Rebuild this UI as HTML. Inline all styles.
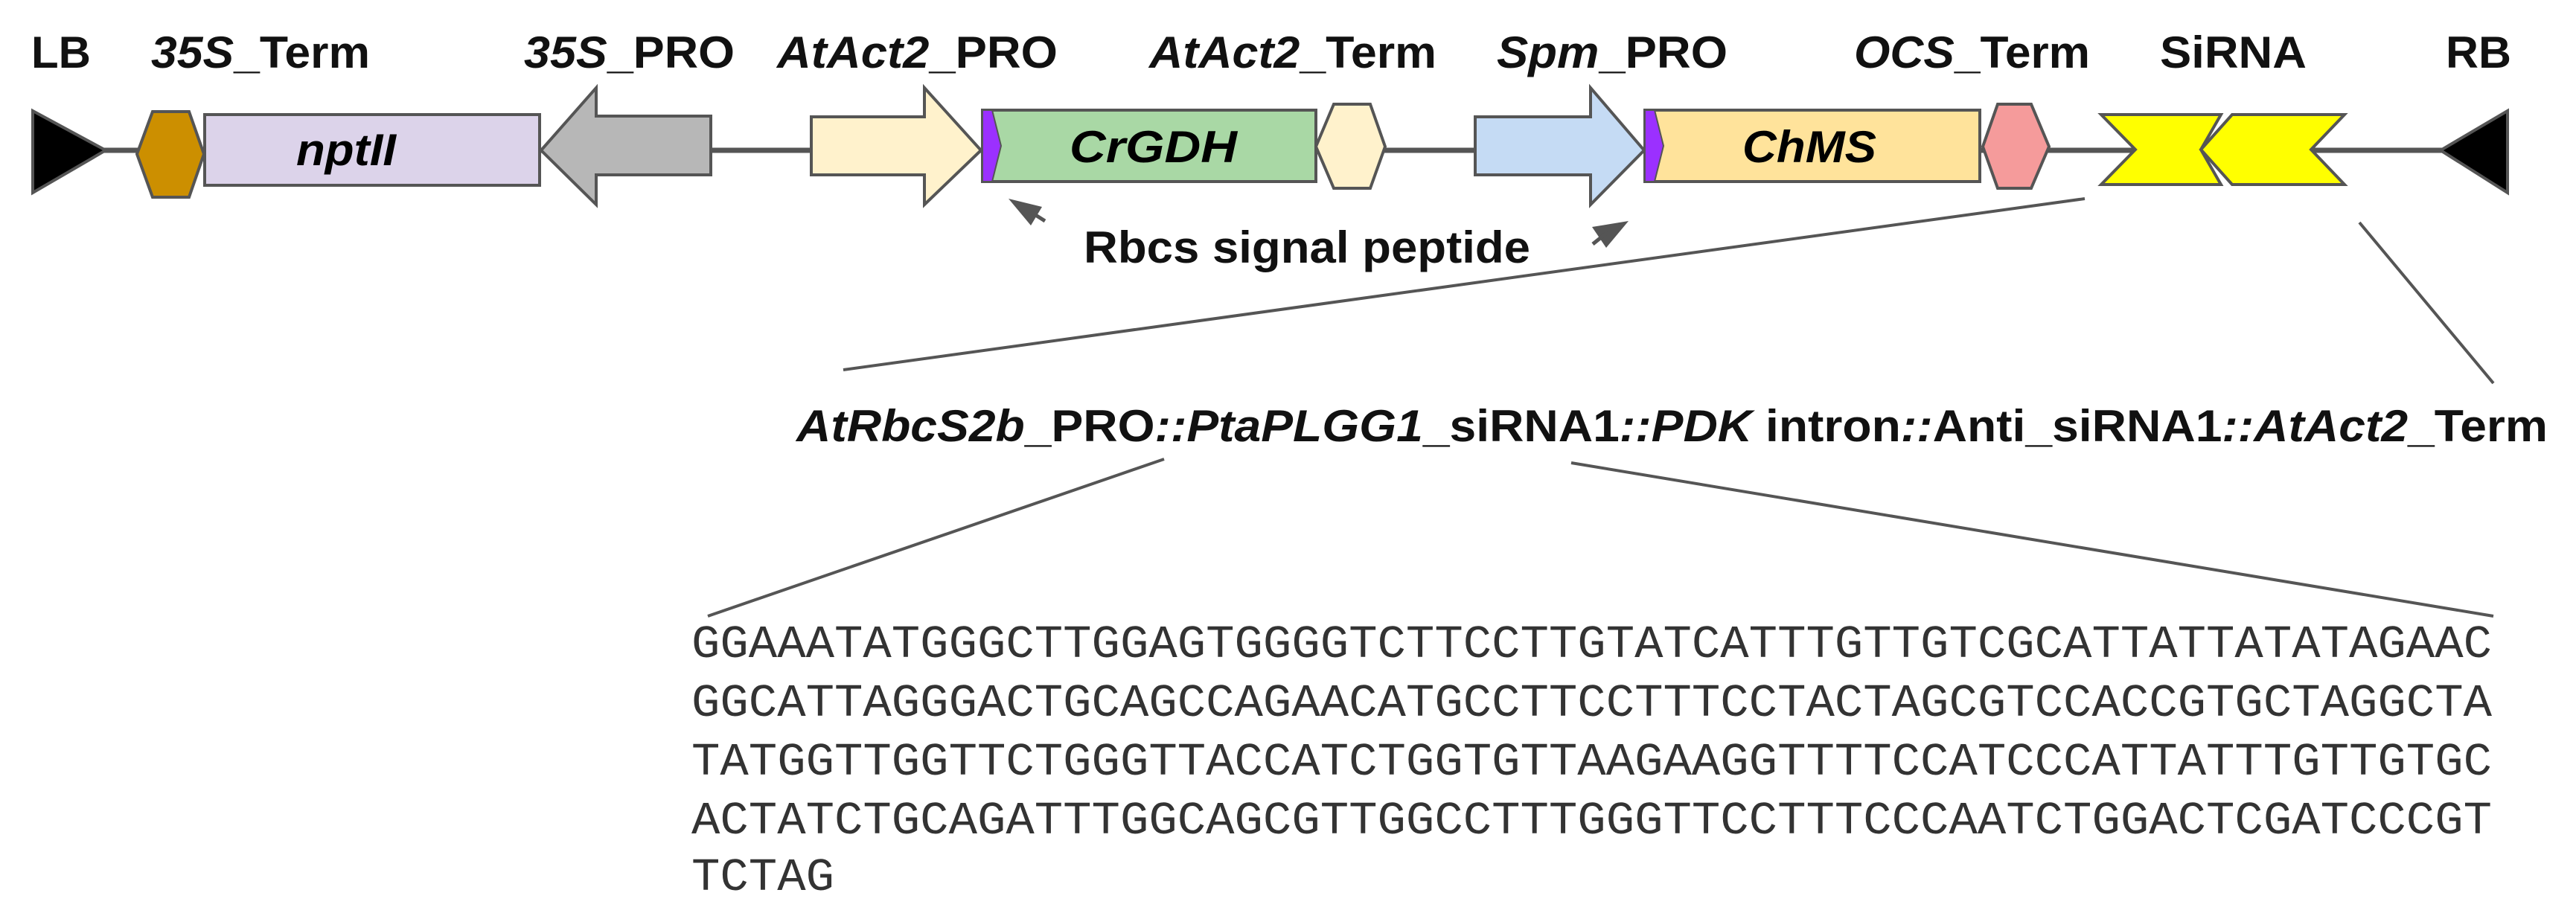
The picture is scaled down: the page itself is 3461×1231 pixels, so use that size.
<!DOCTYPE html>
<html><head><meta charset="utf-8"><style>
html,body{margin:0;padding:0;background:#fff;}
svg{display:block;}
.lb{font-family:"Liberation Sans",Arial,sans-serif;font-weight:bold;font-size:60px;fill:#111;}
.gn{font-family:"Liberation Sans",Arial,sans-serif;font-weight:bold;font-style:italic;font-size:60px;fill:#000;}
.sq{font-family:"Liberation Mono","Courier New",monospace;font-size:62px;fill:#333;}
</style></head><body>
<svg width="3461" height="1231" viewBox="0 0 3461 1231" xmlns="http://www.w3.org/2000/svg">
<line x1="130" y1="202" x2="3290" y2="202" stroke="#555" stroke-width="7"/>
<g stroke="#555" stroke-width="4" stroke-linejoin="miter">
<polygon points="44,149 142,202 44,259" fill="#000"/>
<polygon points="205,150 254,150 274,207 254,265 205,265 184,207" fill="#cc8f00"/>
<rect x="275" y="154" width="450" height="95" fill="#dcd3ea"/>
<polygon points="727,202 801,118 801,156 955,156 955,235 801,235 801,275" fill="#b7b7b7"/>
<polygon points="1090,157 1242,157 1242,118 1318,202 1242,275 1242,235 1090,235" fill="#fff2cc"/>
<rect x="1320" y="148" width="448" height="96" fill="#a9d8a5"/>
<polygon points="1320,148 1333,148 1345,196 1333,244 1320,244" fill="#9b30ff" stroke-width="2"/>
<polygon points="1792,140 1841,140 1861,197 1841,253 1792,253 1768,197" fill="#fff2cc"/>
<polygon points="1982,157 2137,157 2137,118 2209,202 2137,275 2137,235 1982,235" fill="#c5dbf4"/>
<rect x="2210" y="148" width="450" height="96" fill="#ffe39b"/>
<polygon points="2210,148 2223,148 2235,196 2223,244 2210,244" fill="#9b30ff" stroke-width="2"/>
<polygon points="2684,140 2729,140 2753,197 2729,253 2684,253 2664,197" fill="#f59b9b"/>
<polygon points="2823,154 2984,154 2957,201 2984,248 2823,248 2869,201" fill="#ffff00"/>
<polygon points="2999,154 3150,154 3105,201 3150,248 2999,248 2957,201" fill="#ffff00"/>
<polygon points="3369,149 3279,202 3369,259" fill="#000"/>
</g>
<text class="gn" x="398" y="222" textLength="134" lengthAdjust="spacingAndGlyphs">nptII</text>
<text class="gn" x="1437" y="218" textLength="225" lengthAdjust="spacingAndGlyphs">CrGDH</text>
<text class="gn" x="2341" y="218" textLength="180" lengthAdjust="spacingAndGlyphs">ChMS</text>
<text class="lb" x="42" y="91">LB</text>
<text class="lb" x="203" y="91" textLength="294" lengthAdjust="spacingAndGlyphs"><tspan font-style="italic">35S</tspan>_Term</text>
<text class="lb" x="704" y="91" textLength="283" lengthAdjust="spacingAndGlyphs"><tspan font-style="italic">35S</tspan>_PRO</text>
<text class="lb" x="1044" y="91" textLength="377" lengthAdjust="spacingAndGlyphs"><tspan font-style="italic">AtAct2</tspan>_PRO</text>
<text class="lb" x="1544" y="91" textLength="386" lengthAdjust="spacingAndGlyphs"><tspan font-style="italic">AtAct2</tspan>_Term</text>
<text class="lb" x="2011" y="91" textLength="310" lengthAdjust="spacingAndGlyphs"><tspan font-style="italic">Spm</tspan>_PRO</text>
<text class="lb" x="2491" y="91" textLength="317" lengthAdjust="spacingAndGlyphs"><tspan font-style="italic">OCS</tspan>_Term</text>
<text class="lb" x="2902" y="91" textLength="197" lengthAdjust="spacingAndGlyphs">SiRNA</text>
<text class="lb" x="3286" y="91" textLength="88" lengthAdjust="spacingAndGlyphs">RB</text>
<polygon points="1355,267 1400,278 1385,303" fill="#555"/>
<line x1="1385" y1="285" x2="1404" y2="297" stroke="#555" stroke-width="5"/>
<polygon points="2188,297 2139,305 2158,333" fill="#555"/>
<line x1="2160" y1="312" x2="2140" y2="328" stroke="#555" stroke-width="5"/>
<text class="lb" x="1456" y="353" font-size="58" textLength="600" lengthAdjust="spacingAndGlyphs">Rbcs signal peptide</text>
<g stroke="#555" stroke-width="4">
<line x1="2801" y1="267" x2="1133" y2="497"/>
<line x1="3170" y1="299" x2="3350" y2="515"/>
<line x1="1564" y1="617" x2="951" y2="828"/>
<line x1="2111" y1="622" x2="3350" y2="828"/>
</g>
<text class="lb" x="1070" y="593" font-size="62" textLength="2353" lengthAdjust="spacingAndGlyphs"><tspan font-style="italic">AtRbcS2b</tspan>_PRO<tspan font-style="italic">::PtaPLGG1</tspan>_siRNA1<tspan font-style="italic">::PDK</tspan> intron<tspan font-style="italic">::</tspan>Anti_siRNA1<tspan font-style="italic">::AtAct2</tspan>_Term</text>
<text class="sq" x="929" y="883" textLength="2419" lengthAdjust="spacingAndGlyphs">GGAAATATGGGCTTGGAGTGGGGTCTTCCTTGTATCATTTGTTGTCGCATTATTATATAGAAC</text>
<text class="sq" x="929" y="962" textLength="2419" lengthAdjust="spacingAndGlyphs">GGCATTAGGGACTGCAGCCAGAACATGCCTTCCTTTCCTACTAGCGTCCACCGTGCTAGGCTA</text>
<text class="sq" x="929" y="1041" textLength="2419" lengthAdjust="spacingAndGlyphs">TATGGTTGGTTCTGGGTTACCATCTGGTGTTAAGAAGGTTTTCCATCCCATTATTTGTTGTGC</text>
<text class="sq" x="929" y="1120" textLength="2419" lengthAdjust="spacingAndGlyphs">ACTATCTGCAGATTTGGCAGCGTTGGCCTTTGGGTTCCTTTCCCAATCTGGACTCGATCCCGT</text>
<text class="sq" x="929" y="1196" textLength="192" lengthAdjust="spacingAndGlyphs">TCTAG</text>
</svg>
</body></html>
